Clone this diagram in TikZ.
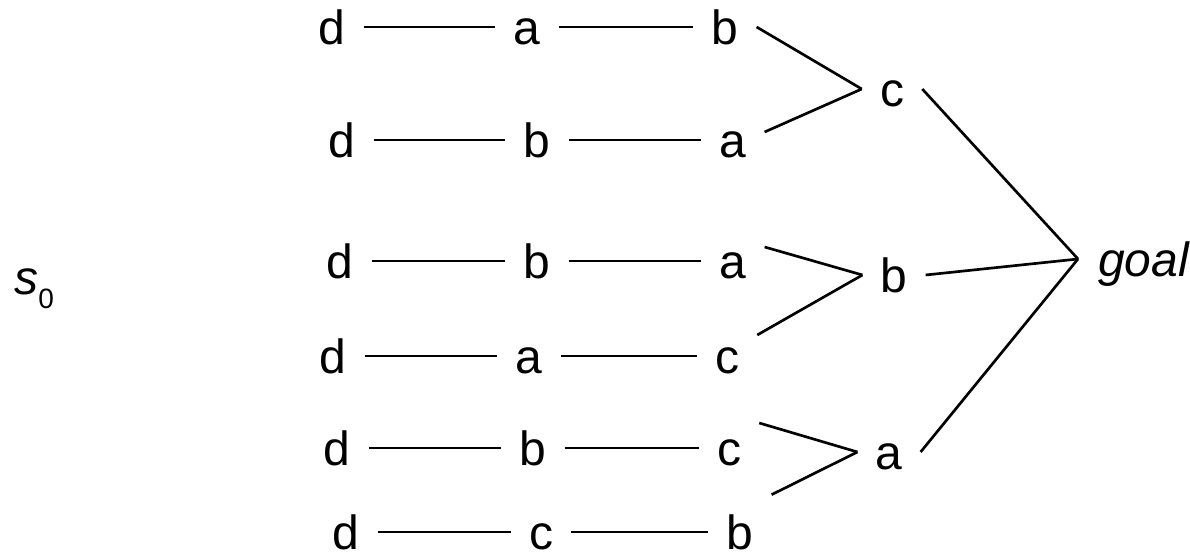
\documentclass[tikz,border=0pt]{standalone}
\usepackage{fontspec}
\setmainfont{Liberation Sans}
\begin{document}
\begin{tikzpicture}[x=0.75pt,y=-0.75pt,
  lbl/.style={font=\fontsize{36}{40}\selectfont, text height=27pt, text depth=0pt, inner xsep=13.5pt, inner ysep=0pt},
  link/.style={line width=2pt}]
\useasboundingbox (0,0) rectangle (1190,555);
% row 1
\node[lbl] (d1) at (332,27) {d};
\node[lbl] (a1) at (527,27) {a};
\node[lbl] (b1) at (725,27) {b};
% row 2
\node[lbl] (d2) at (342,140) {d};
\node[lbl] (b2) at (537,140) {b};
\node[lbl] (a2) at (733,140) {a};
% row 3
\node[lbl] (d3) at (340,261) {d};
\node[lbl] (b3) at (537,261) {b};
\node[lbl] (a3) at (733,261) {a};
% row 4
\node[lbl] (d4) at (333,356) {d};
\node[lbl] (a4) at (529,356) {a};
\node[lbl] (c4) at (727,356) {c};
% row 5
\node[lbl] (d5) at (337,448) {d};
\node[lbl] (b5) at (533,448) {b};
\node[lbl] (c5) at (729,448) {c};
% row 6
\node[lbl] (d6) at (346,532) {d};
\node[lbl] (c6) at (541,532) {c};
\node[lbl] (b6) at (740,532) {b};
% fan nodes
\node[lbl] (cm) at (892,89) {c};
\node[lbl] (bm) at (894,275) {b};
\node[lbl] (am) at (889,452) {a};
\node[lbl, anchor=west, inner xsep=15pt] (goal) at (1078,259) {\itshape goal};
\node[font=\fontsize{36}{40}\selectfont, anchor=base west, inner sep=0pt] (s0) at (14,295) {\itshape s\upshape\raisebox{-10.5pt}{\fontsize{21}{21}\selectfont 0}};
% horizontal chains
\draw[link] (d1) -- (a1); \draw[link] (a1) -- (b1);
\draw[link] (d2) -- (b2); \draw[link] (b2) -- (a2);
\draw[link] (d3) -- (b3); \draw[link] (b3) -- (a3);
\draw[link] (d4) -- (a4); \draw[link] (a4) -- (c4);
\draw[link] (d5) -- (b5); \draw[link] (b5) -- (c5);
\draw[link] (d6) -- (c6); \draw[link] (c6) -- (b6);
% fans
\draw[link] (b1.east) -- (cm.west);
\draw[link] ([yshift=6pt]a2.east) -- (cm.west);
\draw[link] ([yshift=10.5pt]a3.east) -- (bm.west);
\draw[link] ([yshift=15.75pt]c4.east) -- (bm.west);
\draw[link] ([yshift=18.75pt]c5.east) -- (am.west);
\draw[link] ([yshift=28pt]b6.east) -- (am.west);
\draw[link] (cm.east) -- (goal.west);
\draw[link] (bm.east) -- (goal.west);
\draw[link] (am.east) -- (goal.west);
\end{tikzpicture}
\end{document}
